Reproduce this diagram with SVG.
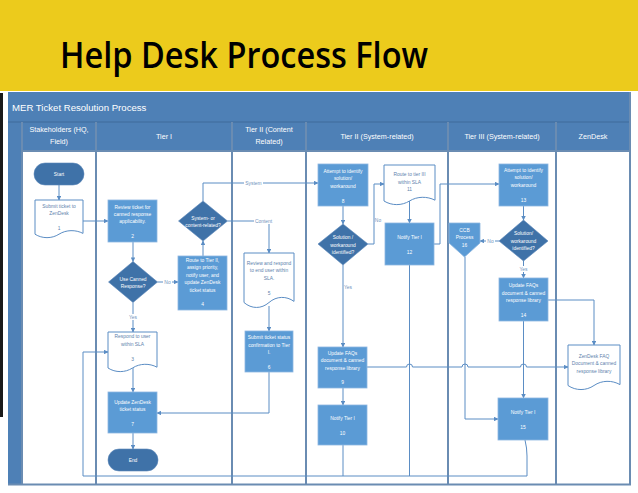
<svg xmlns="http://www.w3.org/2000/svg" width="638" height="493" viewBox="0 0 638 493">
<defs>
<marker id="ah" viewBox="0 0 10 10" refX="9" refY="5" markerWidth="4.5" markerHeight="4.5" orient="auto" markerUnits="userSpaceOnUse"><path d="M0,0 L10,5 L0,10 Z" fill="#5B8DC4"/></marker>
<style>
.hdr{font-family:"Liberation Sans",Arial,sans-serif;font-size:7.2px;fill:#fff;text-anchor:middle}
.t{font-family:"Liberation Sans",Arial,sans-serif;font-size:4.9px;fill:#fff;text-anchor:middle}
.td{font-family:"Liberation Sans",Arial,sans-serif;font-size:4.9px;fill:#5E82AC;text-anchor:middle}
.lb{font-family:"Liberation Sans",Arial,sans-serif;font-size:4.9px;fill:#6F92BC;text-anchor:middle}
.box{fill:#5B9BD5;stroke:#8DB6E0;stroke-width:0.8}
.dk{fill:#3F72A8;stroke:#5A86B8;stroke-width:0.6}
.doc{fill:#fff;stroke:#5B8DC4;stroke-width:1}
.c{fill:none;stroke:#5B8DC4;stroke-width:1}
.ca{fill:none;stroke:#5B8DC4;stroke-width:1;marker-end:url(#ah)}
.lane{stroke:#6A8CB2;stroke-width:2;fill:none}
</style>
</defs>
<rect x="0" y="0" width="638" height="493" fill="#fff"/>
<rect x="0" y="0" width="638" height="91" fill="#ECCB1C"/>
<text x="60" y="68" font-family="'Open Sans','Liberation Sans',sans-serif" font-size="36" font-weight="600" fill="#000" textLength="368" lengthAdjust="spacingAndGlyphs">Help Desk Process Flow</text>
<rect x="0" y="93" width="3" height="324" fill="#1A1A1A"/>

<!-- frame -->
<g id="frame">
<rect x="8" y="92" width="623" height="59" fill="#4E80B6"/>
<rect x="8" y="122" width="14" height="363" fill="#4E80B6"/>
<rect x="22" y="151" width="608" height="333" fill="#fff"/>
<line x1="8" y1="122" x2="631" y2="122" stroke="#3E6A9A" stroke-width="1"/>
<text x="12" y="111" font-family="'Liberation Sans',Arial,sans-serif" font-size="9.6" fill="#fff">MER Ticket Resolution Process</text>
<text class="hdr" x="59" y="132">Stakeholders (HQ,</text>
<text class="hdr" x="59" y="144">Field)</text>
<text class="hdr" x="164" y="139">Tier I</text>
<text class="hdr" x="269" y="132">Tier II (Content</text>
<text class="hdr" x="269" y="144">Related)</text>
<text class="hdr" x="377" y="139">Tier II (System-related)</text>
<text class="hdr" x="502" y="139">Tier III (System-related)</text>
<text class="hdr" x="593" y="139">ZenDesk</text>
<path class="lane" d="M22,122 V485 M96,122 V485 M232,122 V485 M306,122 V485 M448,122 V485 M556,122 V485 M630,92 V485 M8,484.5 H631 M22,151 H630"/>
</g>

<g id="connectors">
<path class="ca" d="M59,185 V200"/>
<path class="ca" d="M83,221 H108"/>
<path class="ca" d="M133,242 V261.5"/>
<path class="ca" d="M157.5,282 H178"/>
<path class="ca" d="M203,256 V241"/>
<path class="ca" d="M203,201 V183 H318"/>
<path class="ca" d="M227.5,221 H269 V253"/>
<path class="ca" d="M269,306 V331"/>
<path class="ca" d="M269,372 V413 H157"/>
<path class="ca" d="M133,302.5 V332"/>
<path class="ca" d="M133,368 V392"/>
<path class="ca" d="M133,433 V449"/>
<path class="ca" d="M343,206 V224"/>
<path class="ca" d="M368,244 H374 V184 H384"/>
<path class="ca" d="M409.5,201 V223"/>
<path class="ca" d="M434,244 H440 V184 H499"/>
<path class="ca" d="M343,265 V347"/>
<path class="ca" d="M343,388 V405"/>
<path class="ca" d="M367,367 H406.5 A3,3 0 0 1 412.5,367 H462 A3,3 0 0 1 468,367 H520.5 A3,3 0 0 1 526.5,367 H568"/>
<path class="ca" d="M523.5,206 V220"/>
<path class="ca" d="M499,241 H480"/>
<path class="ca" d="M523.5,261 V278"/>
<path class="ca" d="M548,300 H594 V345"/>
<path class="ca" d="M523.5,321 V398"/>
<path class="ca" d="M465,257 V419 H498"/>
<path class="ca" d="M525,440 Q527,448 527,456 V476 H83 V352 H108"/>
<path class="c" d="M343,445 V476"/>
<path class="c" d="M409.5,265 V476"/>
<rect x="163" y="279" width="9" height="6" fill="#fff"/>
<text class="lb" x="167.5" y="283.8">No</text>
<rect x="244" y="180" width="19" height="6" fill="#fff"/>
<text class="lb" x="253.5" y="185">System</text>
<rect x="254" y="218" width="19" height="6" fill="#fff"/>
<text class="lb" x="263.5" y="223">Content</text>
<rect x="128" y="314" width="10" height="6" fill="#fff"/>
<text class="lb" x="133" y="318.8">Yes</text>
<text class="lb" x="378" y="221.5">No</text>
<text class="lb" x="348" y="289">Yes</text>
<rect x="486" y="238" width="9" height="6" fill="#fff"/>
<text class="lb" x="490.5" y="242.8">No</text>
<rect x="518.5" y="266" width="10" height="6" fill="#fff"/>
<text class="lb" x="523.5" y="270.8">Yes</text>
</g>

<g id="start"><rect class="dk" x="34" y="163" width="50" height="22" rx="11"/><text class="t" x="59" y="176">Start</text></g>
<g id="n1"><path class="doc" d="M35,200 H83 V233.4 C75.8,229.6 66.2,229.6 59,234.2 C51.8,238.8 42.2,238.8 35,234.2 Z"/>
<text class="td" x="59" y="208">Submit ticket to</text><text class="td" x="59" y="214.5">ZenDesk</text><text class="td" x="59" y="229.5">1</text></g>
<g id="n2"><rect class="box" x="108" y="200" width="49" height="42"/>
<text class="t" x="132.5" y="208.5">Review ticket for</text><text class="t" x="132.5" y="215.8">canned response</text><text class="t" x="132.5" y="223">applicability.</text><text class="t" x="132.5" y="238">2</text></g>
<g id="d1"><polygon class="dk" points="133,261.5 157.5,282 133,302.5 108.5,282"/>
<text class="t" x="133" y="281">Use Canned</text><text class="t" x="133" y="288">Response?</text></g>
<g id="n4"><rect class="box" x="178" y="256" width="49" height="54"/>
<text class="t" x="202.5" y="262">Route to Tier II,</text><text class="t" x="202.5" y="269.3">assign priority,</text><text class="t" x="202.5" y="276.8">notify user, and</text><text class="t" x="202.5" y="284.1">update ZenDesk</text><text class="t" x="202.5" y="291.6">ticket status</text><text class="t" x="202.5" y="306">4</text></g>
<g id="d2"><polygon class="dk" points="203,201 227.5,221 203,241 178.5,221"/>
<text class="t" x="203" y="219.5">System- or</text><text class="t" x="203" y="227">content-related?</text></g>
<g id="n5"><path class="doc" d="M244,253 H294 V301.4 C286.5,295.9 276.5,295.9 269,302.5 C261.5,309.1 251.5,309.1 244,302.5 Z"/>
<text class="td" x="269" y="264.5">Review and respond</text><text class="td" x="269" y="272">to end user within</text><text class="td" x="269" y="279.5">SLA.</text><text class="td" x="269" y="295">5</text></g>
<g id="n6"><rect class="box" x="245" y="331" width="48" height="41"/>
<text class="t" x="269" y="339">Submit ticket status</text><text class="t" x="269" y="347">confirmation to Tier</text><text class="t" x="269" y="354">I.</text><text class="t" x="269" y="368.5">6</text></g>
<g id="n3"><path class="doc" d="M108,332 H157 V367.2 C149.65,363.2 139.85,363.2 132.5,368 C125.15,372.8 115.35,372.8 108,368 Z"/>
<text class="td" x="132.5" y="337.5">Respond to user</text><text class="td" x="132.5" y="346">within SLA</text><text class="td" x="132.5" y="361">3</text></g>
<g id="n7"><rect class="box" x="108" y="392" width="49" height="41"/>
<text class="t" x="132.5" y="404">Update ZenDesk</text><text class="t" x="132.5" y="411">ticket status</text><text class="t" x="132.5" y="426">7</text></g>
<g id="end"><rect class="dk" x="108" y="449" width="50" height="22" rx="11"/><text class="t" x="133" y="462">End</text></g>
<g id="n8"><rect class="box" x="318" y="164" width="50" height="42"/>
<text class="t" x="343" y="173">Attempt to identify</text><text class="t" x="343" y="180">solution/</text><text class="t" x="343" y="187.5">workaround</text><text class="t" x="343" y="202.5">8</text></g>
<g id="d3"><polygon class="dk" points="343,224 368,244 343,265 318,244"/>
<text class="t" x="343" y="239">Solution /</text><text class="t" x="343" y="247">workaround</text><text class="t" x="343" y="253.5">identified?</text></g>
<g id="n11"><path class="doc" d="M384,165 H435 V200.2 C427.35,196.2 417.15,196.2 409.5,201 C401.85,205.8 391.65,205.8 384,201 Z"/>
<text class="td" x="409.5" y="176">Route to tier III</text><text class="td" x="409.5" y="183.5">within SLA</text><text class="td" x="409.5" y="191">11</text></g>
<g id="n12"><rect class="box" x="385" y="223" width="49" height="42"/>
<text class="t" x="409.5" y="239">Notify Tier I</text><text class="t" x="409.5" y="253.5">12</text></g>
<g id="n9"><rect class="box" x="318" y="347" width="49" height="41"/>
<text class="t" x="342.5" y="354.5">Update FAQs</text><text class="t" x="342.5" y="362">document &amp; canned</text><text class="t" x="342.5" y="369.5">response library</text><text class="t" x="342.5" y="384">9</text></g>
<g id="n10"><rect class="box" x="318" y="405" width="49" height="40"/>
<text class="t" x="342.5" y="420">Notify Tier I</text><text class="t" x="342.5" y="435">10</text></g>
<g id="n16"><path class="box" d="M449,223 H480 V243 L464.5,257 L449,243 Z"/>
<text class="t" x="464.5" y="232">CCB</text><text class="t" x="464.5" y="239">Process</text><text class="t" x="464.5" y="247">16</text></g>
<g id="n13"><rect class="box" x="499" y="164" width="49" height="42"/>
<text class="t" x="523.5" y="172">Attempt to identify</text><text class="t" x="523.5" y="179">solution/</text><text class="t" x="523.5" y="187">workaround</text><text class="t" x="523.5" y="202">13</text></g>
<g id="d4"><polygon class="dk" points="523.5,220 548,241 523.5,261 499,241"/>
<text class="t" x="523.5" y="235">Solution/</text><text class="t" x="523.5" y="242.5">workaround</text><text class="t" x="523.5" y="250">identified?</text></g>
<g id="n14"><rect class="box" x="499" y="278" width="49" height="43"/>
<text class="t" x="523.5" y="287">Update FAQs</text><text class="t" x="523.5" y="294.5">document &amp; canned</text><text class="t" x="523.5" y="302">response library</text><text class="t" x="523.5" y="317">14</text></g>
<g id="n15"><rect class="box" x="498" y="398" width="50" height="42"/>
<text class="t" x="523" y="414">Notify Tier I</text><text class="t" x="523" y="429">15</text></g>
<g id="zd"><path class="doc" d="M568,345 H620 V384.6 C612.2,380.1 601.8,380.1 594,385.5 C586.2,390.9 575.8,390.9 568,385.5 Z"/>
<text class="td" x="594" y="357.5">ZenDesk FAQ</text><text class="td" x="594" y="365">Document &amp; canned</text><text class="td" x="594" y="373">response library</text></g>
</svg>
